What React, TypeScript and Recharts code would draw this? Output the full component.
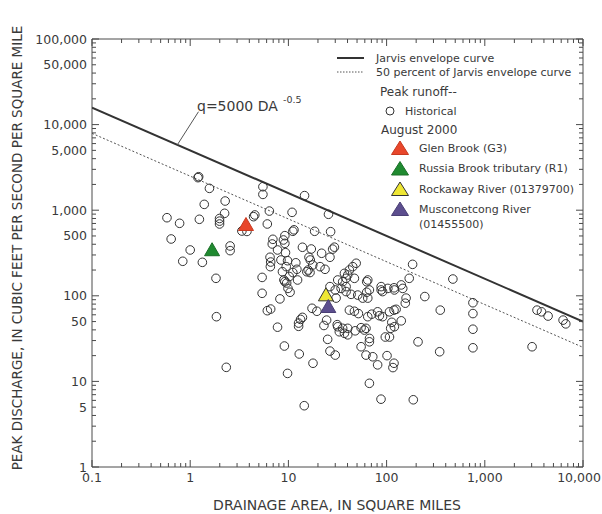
import React from 'react';
import { ScatterChart, Scatter, XAxis, YAxis } from 'recharts';

// historical peak runoff, drainage area (sq mi) and peak (cfs per sq mi)
const histArea = [
  1.2, 1.22, 1.57, 1.39, 2.27, 2.24, 1.99, 1.99, 1.99, 0.58, 0.78, 1.24, 0.64, 1.0, 0.84, 1.33, 2.55, 2.55, 1.83, 1.85,
  2.33, 3.36, 3.78, 4.42, 4.55, 5.5, 5.5, 6.4, 10.9, 14.6, 6.1, 18.5, 11.1, 11.4, 25.6, 26.9, 6.95, 6.85, 8.9, 9.2,
  7.75, 9.34, 13.9, 17.1, 28.2, 29.4, 21.8, 26.5, 6.5, 6.6, 6.55, 9.8, 9.5, 11.9, 12.2, 16.2, 16.7, 21, 15.4, 16.6,
  11.1, 8.7, 5.4, 12.4, 23.6, 5.4, 8.2, 10.4, 9.9, 6.1, 6.6, 7.75, 12.7, 12.7, 13.9, 13.3, 17.4, 19.5, 24.5, 23,
  25.1, 26.5, 30, 9.1, 12.9, 17.8, 9.8, 14.5, 30, 31.4, 9.0, 9.6, 34.4, 38.7, 43.5, 50.8, 57.1, 64.3, 66.8, 91,
  119, 146, 158, 155, 245, 41.8, 47, 51.6, 64.3, 70.5, 81, 84.5, 91, 107, 119, 125, 141, 113, 110, 97,
  31.8, 35.7, 40.2, 40.2, 37.2, 33, 47.9, 55, 59.4, 61.7, 55, 61.7, 67, 66.8, 72.3, 81, 101, 119, 116, 209,
  66.8, 87.7, 187, 184, 170, 49, 45.2, 41.8, 40.2, 38.7, 35.7, 31.8, 37.2, 47, 64.3, 88, 103, 120, 141, 38.7,
  30.6, 26.5, 62.7, 62.7, 88, 473, 757, 757, 757, 757, 352, 347, 3030, 3400, 3780, 4410, 6270, 6680, 120, 107,
  9.2, 8.4, 17.7, 10.2, 9.2, 15.9,
];
const histPeak = [
  2400, 2460, 1800, 1170, 1280, 920, 800, 745, 690, 817, 703, 783, 461, 343, 253, 246, 382, 337, 160, 57,
  14.6, 571, 565, 840, 880, 1880, 1530, 977, 944, 1480, 690, 567, 567, 590, 896, 561, 457, 403, 449, 504,
  343, 319, 369, 352, 351, 370, 314, 282, 282, 248, 219, 257, 219, 243, 204, 282, 262, 219, 191, 187,
  187, 191, 164, 153, 204, 107, 92, 110, 122, 67, 70, 43, 48, 44, 56, 53, 71.5, 66, 52, 45,
  31, 22.6, 20.3, 25.9, 20.9, 16.3, 12.4, 5.2, 117, 46, 153, 141, 122, 112, 104, 102, 94, 94, 117, 112,
  124, 122, 94, 82, 98, 68, 66, 62, 57, 61, 65, 58.5, 57, 65, 68, 69.5, 51, 49, 41.7, 33,
  43.5, 41.7, 41.7, 35, 36.5, 38, 39, 42.4, 39.8, 41.7, 25.4, 20.3, 31.8, 29, 19.4, 15.6, 20, 16.3, 14.5, 29,
  9.5, 6.2, 6.1, 233, 160, 240, 219, 200, 175, 160, 146, 153, 183, 160, 153, 128, 122, 117, 134, 128,
  94, 128, 146, 110, 117, 157, 83, 62, 40.7, 24.7, 68, 22.2, 25.4, 68, 65, 58, 52, 47, 43.5, 33,
  410, 262, 229, 168, 146, 200,
];

// August 2000 peaks
const glenBrook = [{ area: 3.7, peak: 690 }];
const russiaBrook = [{ area: 1.67, peak: 350 }];
const rockaway = [{ area: 24.1, peak: 104 }];
const musconetcong = [{ area: 25.5, peak: 76 }];

// Jarvis envelope curve and its 50 percent line
const curveArea = [0.1, 10000];
const envelopePeak = [15800, 50];
const halfPeak = [7900, 25];
const leaderArea = [0.74, 1.215];
const leaderPeak = [5810, 14150];

const xLabels = [0.1, 1, 10, 100, 1000, 10000];
const yLabels = [1, 5, 10, 50, 100, 500, 1000, 5000, 10000, 50000, 100000];

const historical = histArea.map((a, i) => ({ area: a, peak: histPeak[i] }));
const envelope = curveArea.map((a, i) => ({ area: a, peak: envelopePeak[i] }));
const halfEnvelope = curveArea.map((a, i) => ({ area: a, peak: halfPeak[i] }));
const leader = leaderArea.map((a, i) => ({ area: a, peak: leaderPeak[i] }));

const logTicks = (lo: number, hi: number) => {
  const out: number[] = [];
  for (let d = lo; d < hi * 0.99; d *= 10) {
    for (let m = 1; m < 10; m++) out.push(+(m * d).toPrecision(3));
  }
  out.push(hi);
  return out;
};
const xTicks = logTicks(0.1, 10000);
const yTicks = logTicks(1, 100000);

const isDecade = (v: number) => Math.abs(Math.log10(v) - Math.round(Math.log10(v))) < 1e-6;
const fmt = (v: number) => (v < 1 ? String(v) : v.toLocaleString('en-US'));
const tickLen = (v: number) => (isDecade(v) ? 7 : 4);

const FONT = '"DejaVu Sans", sans-serif';
const INK = '#3a3a3a';
const AXIS = '#4a4a4a';

// frame ticks point inward; bottom and left also carry the labels
const BottomTick = (props: any) => {
  const { x, y, payload } = props;
  const v = payload.value;
  return (
    <g>
      <line x1={x} y1={y} x2={x} y2={y - tickLen(v)} stroke={AXIS} strokeWidth={1} />
      {xLabels.some((l) => Math.abs(l - v) < 1e-9) && (
        <text x={v >= 10000 ? x - 4 : x} y={y + 14.5} textAnchor="middle" fontSize={12.5} fill={INK} fontFamily={FONT}>
          {fmt(v)}
        </text>
      )}
    </g>
  );
};
const LeftTick = (props: any) => {
  const { x, y, payload } = props;
  const v = payload.value;
  return (
    <g>
      <line x1={x} y1={y} x2={x + tickLen(v)} y2={y} stroke={AXIS} strokeWidth={1} />
      {yLabels.includes(v) && (
        <text x={x - 5} y={y + 4.5} textAnchor="end" fontSize={12.5} fill={INK} fontFamily={FONT}>
          {fmt(v)}
        </text>
      )}
    </g>
  );
};
const TopTick = (props: any) => (
  <line x1={props.x} y1={props.y} x2={props.x} y2={props.y + tickLen(props.payload.value)} stroke={AXIS} strokeWidth={1} />
);
const RightTick = (props: any) => (
  <line x1={props.x} y1={props.y} x2={props.x - tickLen(props.payload.value)} y2={props.y} stroke={AXIS} strokeWidth={1} />
);

const Ring = (props: any) => <circle cx={props.cx} cy={props.cy} r={4.3} fill="none" stroke="#333" strokeWidth={1} />;

const tri = (fill: string, stroke: string, w = 15, h = 13) => (props: any) => {
  const { cx, cy } = props;
  return (
    <polygon
      points={`${cx},${cy - h / 2} ${cx - w / 2},${cy + h / 2} ${cx + w / 2},${cy + h / 2}`}
      fill={fill}
      stroke={stroke}
      strokeWidth={1}
    />
  );
};

const RED = '#e8472b';
const GREEN = '#1f8a30';
const YELLOW = '#eee633';
const PURPLE = '#5c4e8e';

const Nothing = () => <g />;

const logX = { type: 'number' as const, scale: 'log' as const, domain: [0.1, 10000], ticks: xTicks, dataKey: 'area' };
const logY = { type: 'number' as const, scale: 'log' as const, domain: [1, 100000], ticks: yTicks, dataKey: 'peak' };
const axisCommon = {
  interval: 0 as const,
  allowDataOverflow: true,
  tickSize: 0,
  tickMargin: 0,
  tickLine: false,
  axisLine: { stroke: AXIS, strokeWidth: 1 },
};

export default function App() {
  return (
    <div style={{ position: 'absolute', left: 0, top: 0, width: 602, height: 514 }}>
      <svg width={602} height={514} style={{ position: 'absolute', left: 0, top: 0 }} fontFamily={FONT} fill={INK}>
        <text x={197} y={111} fontSize={14}>
          q=5000 DA
        </text>
        <text x={283} y={103} fontSize={9.5}>
          -0.5
        </text>

        <line x1={337} y1={58} x2={364} y2={58} stroke="#333" strokeWidth={2} />
        <text x={376} y={62} fontSize={11}>Jarvis envelope curve</text>
        <line x1={337} y1={72} x2={364} y2={72} stroke="#555" strokeWidth={1} strokeDasharray="1.5 1.5" />
        <text x={376} y={76} fontSize={11}>50 percent of Jarvis envelope curve</text>
        <text x={380} y={96} fontSize={12}>Peak runoff--</text>
        <circle cx={390} cy={111} r={4} fill="none" stroke="#333" />
        <text x={405} y={115} fontSize={11}>Historical</text>
        <text x={381} y={134} fontSize={12}>August 2000</text>

        <polygon points="400,141 391.5,154.5 408.5,154.5" fill={RED} stroke="#c8391f" />
        <text x={419} y={151.5} fontSize={11}>Glen Brook (G3)</text>
        <polygon points="400,161.5 391.5,175 408.5,175" fill={GREEN} stroke="#1a6f27" />
        <text x={419} y={172} fontSize={11}>Russia Brook tributary (R1)</text>
        <polygon points="400,182 391.5,195.5 408.5,195.5" fill={YELLOW} stroke="#333" />
        <text x={419} y={192.5} fontSize={11}>Rockaway River (01379700)</text>
        <polygon points="400,202 391.5,215.5 408.5,215.5" fill={PURPLE} stroke="#4a3f75" />
        <text x={419} y={213} fontSize={11}>Musconetcong River</text>
        <text x={419} y={227.5} fontSize={11}>(01455500)</text>

        <text x={337} y={510} fontSize={14} textAnchor="middle">
          DRAINAGE AREA, IN SQUARE MILES
        </text>
        <text x={22} y={248} fontSize={13.5} textAnchor="middle" transform="rotate(-90 22 248)">
          PEAK DISCHARGE, IN CUBIC FEET PER SECOND PER SQUARE MILE
        </text>
      </svg>

      <div style={{ position: 'absolute', left: 0, top: 0 }}>
        <ScatterChart width={602} height={514} margin={{ top: 38, right: 18, bottom: 0, left: 0 }}>
          {/* data axes (hidden, zero size so they take no slot) */}
          <XAxis {...logX} orientation="top" allowDataOverflow hide height={0} />
          <YAxis {...logY} orientation="right" allowDataOverflow hide width={0} />
          {/* frame axes, all four sides */}
          <XAxis xAxisId="fb" {...logX} {...axisCommon} height={47} tick={<BottomTick />} />
          <XAxis xAxisId="ft" orientation="top" {...logX} {...axisCommon} height={1} tick={<TopTick />} />
          <YAxis yAxisId="fl" {...logY} {...axisCommon} width={92} tick={<LeftTick />} />
          <YAxis yAxisId="fr" orientation="right" {...logY} {...axisCommon} width={1} tick={<RightTick />} />

          <Scatter xAxisId="fb" yAxisId="fl" data={envelope} shape={<Nothing />} isAnimationActive={false} />
          <Scatter xAxisId="ft" yAxisId="fr" data={envelope} shape={<Nothing />} isAnimationActive={false} />

          <Scatter data={envelope} line={{ stroke: '#333', strokeWidth: 2 }} shape={<Nothing />} isAnimationActive={false} />
          <Scatter
            data={halfEnvelope}
            line={{ stroke: '#555', strokeWidth: 1, strokeDasharray: '2 2' }}
            shape={<Nothing />}
            isAnimationActive={false}
          />
          <Scatter data={leader} line={{ stroke: '#555', strokeWidth: 1 }} shape={<Nothing />} isAnimationActive={false} />
          <Scatter data={historical} shape={<Ring />} isAnimationActive={false} />
          <Scatter data={glenBrook} shape={tri(RED, '#c8391f')} isAnimationActive={false} />
          <Scatter data={russiaBrook} shape={tri(GREEN, '#1a6f27')} isAnimationActive={false} />
          <Scatter data={rockaway} shape={tri(YELLOW, '#333')} isAnimationActive={false} />
          <Scatter data={musconetcong} shape={tri(PURPLE, '#4a3f75')} isAnimationActive={false} />
        </ScatterChart>
      </div>
    </div>
  );
}
